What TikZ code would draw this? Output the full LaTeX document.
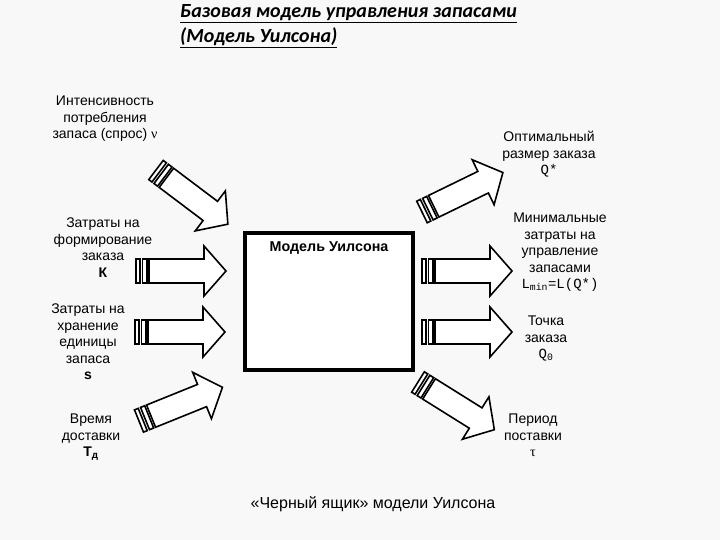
\documentclass[tikz,border=0pt]{standalone}
\usepackage{fontspec}
\setmainfont{Liberation Sans}
\newfontfamily\titlefont{Carlito}
\newfontfamily\monofont{Liberation Mono}
\newfontfamily\serifgr{Liberation Serif}
\definecolor{bgcol}{RGB}{248,248,248}
\newcommand\stripearrow[3]{%
  \begin{scope}[shift={(#1,#2)}, rotate=#3]
    \draw[arr] (0,-12) rectangle (4,12);
    \draw[arr] (6.5,-12) rectangle (11,12);
    \draw[arr] (13,-12) -- (68,-12) -- (68,-25) -- (90,0) -- (68,25) -- (68,12) -- (13,12) -- cycle;
  \end{scope}}
\begin{document}
\begin{tikzpicture}[x=1pt,y=-1pt,
  lbl/.style={align=center, font=\fontsize{14}{16.5}\selectfont, inner sep=0pt, anchor=north},
  arr/.style={draw=black, fill=white, line width=1.6pt, line join=miter}]
\fill[bgcol] (0,0) rectangle (720,540);
\useasboundingbox (0,0) rectangle (720,540);
% title
\node[anchor=base west, align=left, inner sep=0pt,
  font=\titlefont\bfseries\itshape\fontsize{20}{25}\selectfont] (title) at (180,43)
  {\underline{Базовая модель управления запасами}\\\underline{(Модель Уилсона)}};
% central box
\draw[line width=4pt, fill=white] (245,233) rectangle (413,370);
\node[font=\bfseries\fontsize{14.3}{16}\selectfont, inner sep=0pt] (box) at (329,248) {Модель Уилсона};
% arrows
\stripearrow{156}{170}{-37}
\stripearrow{136}{271}{0}
\stripearrow{135}{332}{0}
\stripearrow{139}{421}{22}
\stripearrow{422}{212}{26}
\stripearrow{422}{271}{0}
\stripearrow{422}{332}{0}
\stripearrow{418}{382}{-32}
% labels left
\node[lbl] (nu) at (105,96) {Интенсивность\\потребления\\запаса (спрос) {\serifgr ν}};
\node[lbl] (k) at (103,218) {Затраты на\\формирование\\заказа\\\textbf{К}};
\node[lbl] (s) at (88,304) {Затраты на\\хранение\\единицы\\запаса\\\textbf{s}};
\node[lbl] (td) at (91,414) {Время\\доставки\\\textbf{Т}\textsubscript{\textbf{д}}};
% labels right
\node[lbl] (qs) at (549,131) {Оптимальный\\размер заказа\\{\monofont Q*}};
\node[lbl] (lmin) at (560,213) {Минимальные\\затраты на\\управление\\запасами\\{\monofont L\textsubscript{min}=L(Q*)}};
\node[lbl] (q0) at (546,316) {Точка\\заказа\\{\monofont Q\textsubscript{0}}};
\node[lbl] (tau) at (533,414) {Период\\поставки\\{\serifgr τ}};
% caption
\node[font=\fontsize{16}{19}\selectfont, inner sep=0pt] (cap) at (373,504) {«Черный ящик» модели Уилсона};
\end{tikzpicture}
\end{document}
